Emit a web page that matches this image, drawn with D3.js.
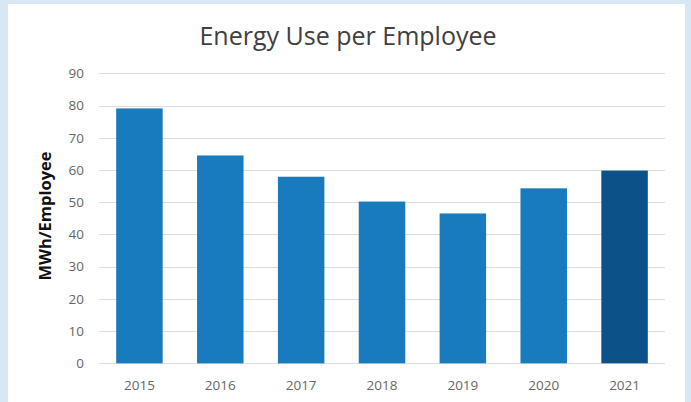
<!DOCTYPE html>
<html><head><meta charset="utf-8">
<script src="https://cdn.jsdelivr.net/npm/d3@7"></script>
<style>html,body{margin:0;padding:0;background:#d7e8f4;}svg{display:block;}</style>
</head><body>
<script>
const years = ["2015","2016","2017","2018","2019","2020","2021"];
const values = [79.1, 64.5, 57.9, 50.2, 46.5, 54.3, 59.8];
const yTicks = [0,10,20,30,40,50,60,70,80,90];
const title = "Energy Use per Employee";
const yTitle = "MWh/Employee";

const W = 691, H = 402;
const svg = d3.select("body").append("svg").attr("width", W).attr("height", H);
svg.append("rect").attr("width", W).attr("height", H).attr("fill", "#d7e8f4");
svg.append("rect").attr("x", 8).attr("y", 4).attr("width", 677).attr("height", H - 4).attr("fill", "#ffffff");

const x = d3.scaleBand().domain(years).range([99, 665]).paddingInner(0.425).paddingOuter(0.2125);
const y = d3.scaleLinear().domain([0, 90]).range([363.3, 73.3]);

svg.append("g").selectAll("line").data(yTicks).join("line")
  .attr("x1", 99).attr("x2", 665)
  .attr("y1", d => Math.round(y(d)) + 0.5).attr("y2", d => Math.round(y(d)) + 0.5)
  .attr("stroke", "#dcdcdc").attr("stroke-width", 1);

svg.append("g").selectAll("rect").data(years).join("rect")
  .attr("x", d => x(d)).attr("width", x.bandwidth())
  .attr("y", (d, i) => y(values[i])).attr("height", (d, i) => y(0) - y(values[i]))
  .attr("fill", (d, i) => i === years.length - 1 ? "#0c5288" : "#177bbd");

const yAxis = d3.axisLeft(y).tickValues(yTicks).tickSize(0).tickPadding(0);
const gy = svg.append("g").attr("transform", "translate(84,0)").call(yAxis);
gy.select(".domain").remove();
gy.selectAll("text").attr("font-family", "Open Sans, sans-serif").attr("font-size", 13.5).attr("fill", "#666666");

const xAxis = d3.axisBottom(x).tickSize(0).tickPadding(0);
const gx = svg.append("g").attr("transform", "translate(0,380)").call(xAxis);
gx.select(".domain").remove();
gx.selectAll("text").attr("font-family", "Open Sans, sans-serif").attr("font-size", 13.5).attr("fill", "#666666");

svg.append("text").attr("x", 348).attr("y", 45).attr("text-anchor", "middle")
  .attr("font-family", "Open Sans, sans-serif").attr("font-size", 25).attr("fill", "#404040").text(title);

svg.append("text").attr("transform", "translate(51,216) rotate(-90)").attr("text-anchor", "middle")
  .attr("font-family", "Open Sans, sans-serif").attr("font-weight", "bold").attr("font-size", 16.5).attr("fill", "#111111").text(yTitle);
</script>
</body></html>
